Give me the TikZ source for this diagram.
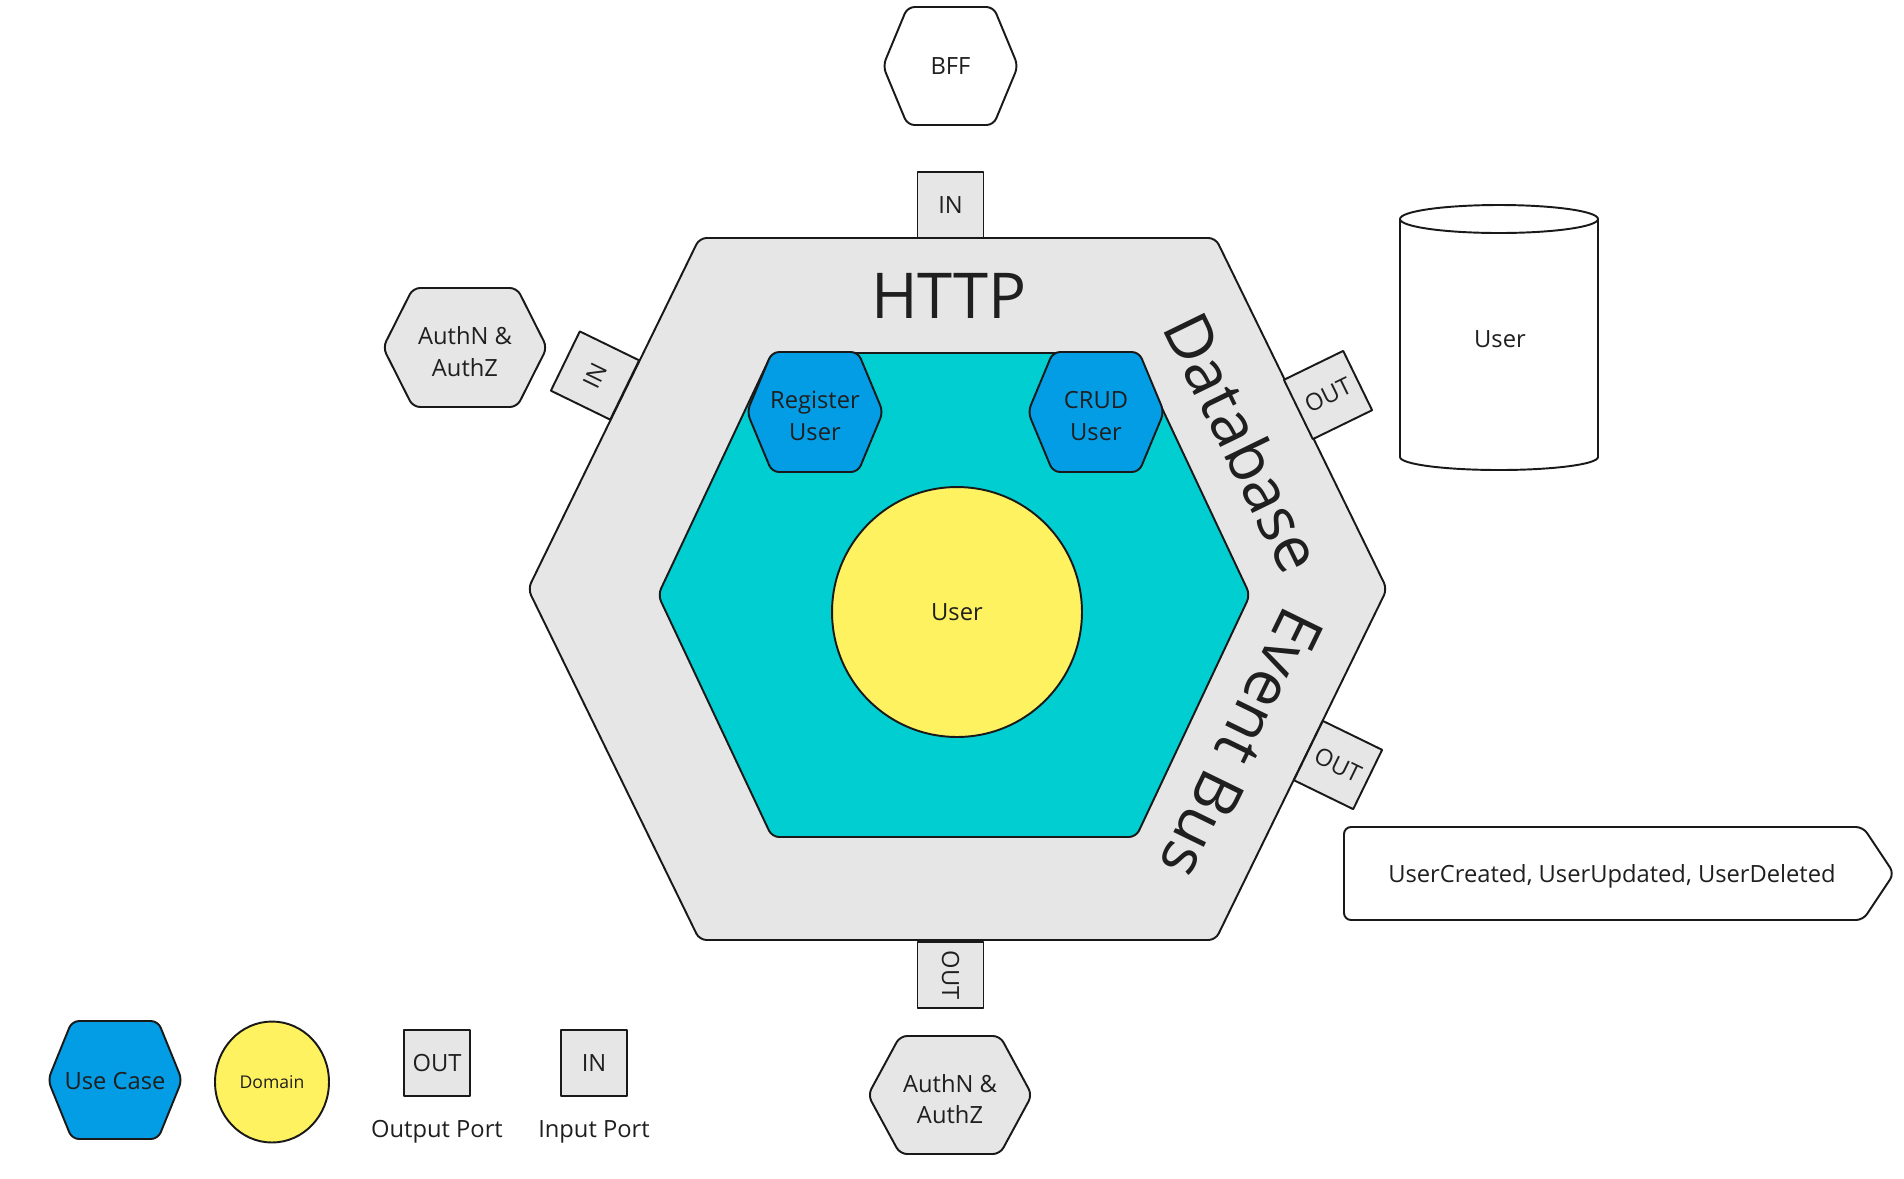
\documentclass[tikz,border=0pt]{standalone}
\usepackage{fontspec}
\setmainfont{Open Sans}
\usetikzlibrary{positioning, shapes.geometric}
\definecolor{portgray}{RGB}{230,230,230}
\definecolor{coreteal}{RGB}{0,206,209}
\definecolor{caseblue}{RGB}{3,157,230}
\definecolor{domyellow}{RGB}{255,242,96}
% hexagon: style, centre, half width, half height, half top edge
\newcommand{\hexa}[5]{\draw[#1, shift={(#2)}] (-#3,0) -- (-#5,-#4) -- (#5,-#4) -- (#3,0) -- (#5,#4) -- (-#5,#4) -- cycle;}

\begin{document}
\begin{tikzpicture}[
      x=0.02cm, y=-0.02cm,
      line width=1.1pt, line join=round,
      every node/.style={font=\fontsize{13.5}{18}\selectfont, text=black!88, align=center},
      shell/.style={draw=black!90, fill=portgray, rounded corners=4pt},
      core/.style={draw=black!90, fill=coreteal, rounded corners=4pt},
      usecase/.style={draw=black!90, fill=caseblue, rounded corners=4pt},
      actor/.style={draw=black!90, fill=portgray, rounded corners=4pt},
      ext/.style={draw=black!90, fill=white, rounded corners=4pt},
      store/.style={draw=black!90, fill=white},
      port/.style={draw=black!90, fill=portgray, minimum size=1.32cm, inner sep=0pt},
      side/.style={font=\fontsize{36}{40}\selectfont},
      domainball/.style={draw=black!90, fill=domyellow, inner sep=0pt}
  ]
      \useasboundingbox (0,0) rectangle (1904,1178);

      % Outer adapter shell
      \hexa{shell}{957.5,589}{429.5}{351}{258}
      \node[side] (http) at (949,296) {HTTP};
      \node[side, rotate=-64] (db) at (1244,442) {Database};
      \node[side, rotate=-116] (bus) at (1242,744) {Event Bus};

      % Ports on the shell
      \node[port] (inhttp) at (950.5,205) {IN};
      \node[port, rotate=64] (inauth) at (595,375.5) {IN};
      \node[port, rotate=26] (outdb) at (1328,395) {OUT};
      \node[port, rotate=-26] (outbus) at (1338,765) {OUT};
      \node[port, rotate=-90] (outauth) at (950.5,975) {OUT};

      % Application core
      \hexa{core}{954,595}{296}{242}{182}
      \hexa{usecase}{815,412}{68}{60}{43}
      \node (reg) at (815,416) {Register\\User};
      \hexa{usecase}{1096,412}{68}{60}{43}
      \node (crud) at (1096,416) {CRUD\\User};
      \node[domainball, circle, minimum size=5cm] (user) at (957,612) {User};

      % Outside actors
      \hexa{ext}{950.5,66}{67.5}{59}{43}
      \node (bff) at (950.5,66) {BFF};
      \hexa{actor}{465,347.5}{82}{59.5}{52}
      \node (authl) at (465,351.5) {AuthN \&\\AuthZ};
      \hexa{actor}{950,1095}{82}{59}{50}
      \node (authb) at (950,1099) {AuthN \&\\AuthZ};

      % User table
      \draw[store] (1400,219) -- (1400,457) arc[start angle=180, end angle=0, x radius=99, y radius=13] -- (1598,219);
      \draw[store] (1499,219) ellipse[x radius=99, y radius=14];
      \node (table) at (1500,339) {User};

      % Published events
      \draw[ext] (1344,827) -- (1863,827) -- (1894,873.5) -- (1863,920) -- (1344,920) -- cycle;
      \node (events) at (1612,876) {UserCreated, UserUpdated, UserDeleted};

      % Legend
      \hexa{usecase}{115,1080}{67}{59}{43}
      \node (leguc) at (115,1081) {Use Case};
      \node[domainball, ellipse, minimum width=2.28cm, minimum height=2.42cm, font=\fontsize{10}{12}\selectfont] (legdom) at (272,1082) {Domain};
      \node[port] (legout) at (437,1063) {OUT};
      \node[below=0.33cm of legout] {Output Port};
      \node[port] (legin) at (594,1063) {IN};
      \node[below=0.33cm of legin] {Input Port};

  \end{tikzpicture}
\end{document}
